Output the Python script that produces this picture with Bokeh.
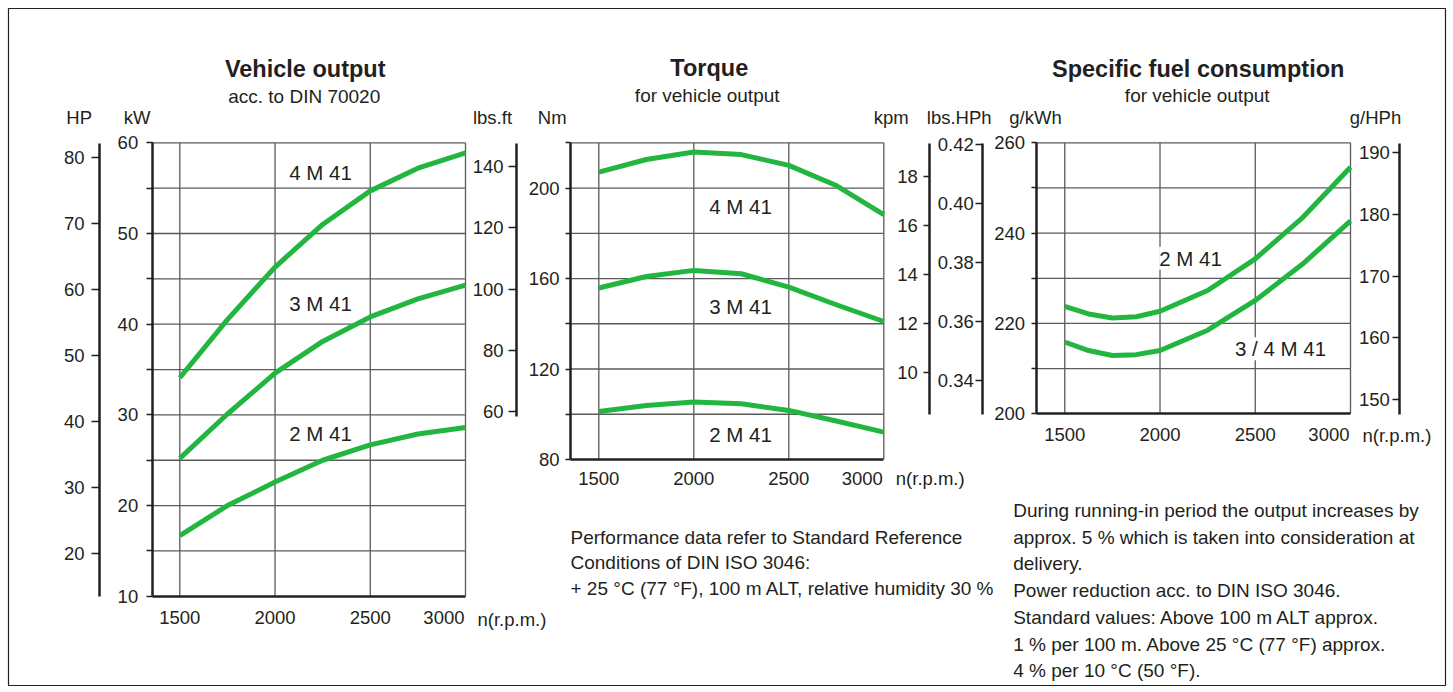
from bokeh.plotting import figure
from bokeh.models import Range1d, LinearAxis, FixedTicker, Label, PrintfTickFormatter, BoxAnnotation
from bokeh.embed import file_html
from bokeh.resources import INLINE

# ---------------- data ----------------
rpm = [1500, 1750, 2000, 2250, 2500, 2750, 3000]
kw_4m41 = [34.1, 40.5, 46.3, 51.0, 54.7, 57.2, 58.9]
kw_3m41 = [25.2, 30.1, 34.6, 38.1, 40.8, 42.8, 44.3]
kw_2m41 = [16.7, 20.0, 22.6, 25.0, 26.7, 27.9, 28.6]

nm_4m41 = [207.0, 212.6, 215.9, 214.8, 210.0, 201.1, 188.3]
nm_3m41 = [155.8, 160.9, 163.6, 162.1, 156.2, 148.4, 141.0]
nm_2m41 = [101.2, 103.9, 105.4, 104.6, 101.7, 97.0, 92.1]

rpm_fuel = [1500, 1625, 1750, 1875, 2000, 2250, 2500, 2750, 3000]
gkwh_2m41 = [223.8, 222.1, 221.2, 221.5, 222.7, 227.3, 234.3, 243.5, 254.6]
gkwh_34m41 = [215.9, 214.0, 212.9, 213.1, 214.0, 218.5, 225.1, 233.2, 242.7]

rpm_ticks = [1500, 2000, 2500]
rpm_grid = [1500, 2000, 2500, 3000]
kw_ticks = [10, 20, 30, 40, 50, 60]
kw_minor = [15, 25, 35, 45, 55]
kw_grid = [15, 20, 25, 30, 35, 40, 45, 50, 55, 60]
hp_ticks = [20, 30, 40, 50, 60, 70, 80]
lbsft_ticks = [60, 80, 100, 120, 140]
nm_ticks = [80, 120, 160, 200]
nm_minor = [100, 140, 180, 220]
nm_grid = [100, 120, 140, 160, 180, 200, 220]
kpm_ticks = [10, 12, 14, 16, 18]
lbshph_ticks = [0.34, 0.36, 0.38, 0.40, 0.42]
gkwh_ticks = [200, 220, 240, 260]
gkwh_minor = [210, 230, 250]
gkwh_grid = [210, 220, 230, 240, 250, 260]
ghph_ticks = [150, 160, 170, 180, 190]

# ---------------- styling / layout ----------------
INK = "#231f20"
GREEN = "#22b53f"
GRIDC = "#5a5a5a"
FONT = "Liberation Sans"
FS = "18.5px"

W, H = 1453, 692
L0, T0 = 0, 0
R0, B0 = L0 + W, T0 + H

p = figure(width=W, height=H, output_backend="svg", toolbar_location=None,
           x_range=Range1d(L0, R0), y_range=Range1d(B0, T0),
           x_axis_type=None, y_axis_type=None)
p.min_border_left = 0
p.min_border_right = 0
p.min_border_top = 0
p.min_border_bottom = 0
p.outline_line_color = None
p.background_fill_color = "white"
p.border_fill_color = "white"

# outer frame of the sheet
p.add_layout(BoxAnnotation(left=8, right=1445, top=8, bottom=685,
                           fill_alpha=0, line_color=INK, line_alpha=1.0, line_width=1.2,
                           level="underlay"))


def lin(pa, va, pb, vb):
    s = (vb - va) / (pb - pa)
    return lambda px: va + (px - pa) * s


# chart frames in page pixels (left, top, right, bottom) with data extents
CHARTS = {
    "c1": dict(box=(151.7, 142.3, 465.0, 595.8), xlim=(1355, 3000), ylim=(10, 60)),
    "c2": dict(box=(570.0, 142.3, 883.3, 459.0), xlim=(1351, 3000), ylim=(80, 220)),
    "c3": dict(box=(1035.5, 142.3, 1350.0, 413.3), xlim=(1349, 3000), ylim=(200, 260)),
}
# auxiliary scales: page y of two tick values
AUX = {
    "hp": dict(loc=99.0, a=(156.7, 80), b=(553.3, 20), span=(142.8, 595.8), ticks=hp_ticks, out=8, so=7),
    "lbsft": dict(loc=516.0, a=(166.0, 140), b=(411.0, 60), span=(142.8, 415.7), ticks=lbsft_ticks, out=8, so=5),
    "kpm": dict(loc=929.3, a=(176.0, 18), b=(371.7, 10), span=(142.8, 414.0), ticks=kpm_ticks, out=6, so=6),
    "lbshph": dict(loc=982.3, a=(144.3, 0.42), b=(380.0, 0.34), span=(142.8, 414.0), ticks=lbshph_ticks, out=7, so=2),
    "ghph": dict(loc=1399.3, a=(151.7, 190), b=(399.3, 150), span=(142.8, 414.0), ticks=ghph_ticks, out=7, so=3),
}

xr, yr, ymaps = {}, {}, {}
for name, c in CHARTS.items():
    l, t, r, b = c["box"]
    fx = lin(l, c["xlim"][0], r, c["xlim"][1])
    fy = lin(b, c["ylim"][0], t, c["ylim"][1])
    xr[name + "x"] = Range1d(fx(L0), fx(R0))
    yr[name + "y"] = Range1d(fy(B0), fy(T0))
for name, a in AUX.items():
    f = lin(a["a"][0], a["a"][1], a["b"][0], a["b"][1])
    ymaps[name] = f
    yr[name] = Range1d(f(B0), f(T0))
p.extra_x_ranges = xr
p.extra_y_ranges = yr


def style_axis(ax, out, so, width=2.5):
    ax.axis_line_color = INK
    ax.axis_line_width = width
    ax.major_tick_line_color = INK
    ax.major_tick_line_width = 1.5
    ax.minor_tick_line_color = INK
    ax.minor_tick_line_width = 1.5
    ax.major_tick_out = int(out)
    ax.major_tick_in = 0
    ax.minor_tick_out = int(out)
    ax.minor_tick_in = 0
    ax.major_label_standoff = int(so)
    ax.major_label_text_font = FONT
    ax.major_label_text_font_size = FS
    ax.major_label_text_color = INK


# grid lines (segments in chart data coordinates)
grids = {"c1": kw_grid, "c2": nm_grid, "c3": gkwh_grid}
for name, c in CHARTS.items():
    x0, x1 = c["xlim"]
    y0, y1 = c["ylim"]
    n = len(rpm_grid)
    p.segment(x0=rpm_grid, y0=[y0] * n, x1=rpm_grid, y1=[y1] * n,
              x_range_name=name + "x", y_range_name=name + "y",
              line_color=GRIDC, line_width=1.3)
    g = grids[name]
    m = len(g)
    p.segment(x0=[x0] * m, y0=g, x1=[x1] * m, y1=g,
              x_range_name=name + "x", y_range_name=name + "y",
              line_color=GRIDC, line_width=1.3)

# curves
for ys in (kw_4m41, kw_3m41, kw_2m41):
    p.line(rpm, ys, x_range_name="c1x", y_range_name="c1y",
           line_color=GREEN, line_width=5, line_join="round")
for ys in (nm_4m41, nm_3m41, nm_2m41):
    p.line(rpm, ys, x_range_name="c2x", y_range_name="c2y",
           line_color=GREEN, line_width=5, line_join="round")
for ys in (gkwh_2m41, gkwh_34m41):
    p.line(rpm_fuel, ys, x_range_name="c3x", y_range_name="c3y",
           line_color=GREEN, line_width=5, line_join="round")

# main axes
main_y = {"c1": (kw_ticks, kw_minor, 6, 8),
          "c2": (nm_ticks, nm_minor, 5, 6),
          "c3": (gkwh_ticks, gkwh_minor, 5, 6)}
x_so = {"c1": 15, "c2": 12, "c3": 14}
unit_y = {"c1": 618.5, "c2": 478.0, "c3": 434.5}
for name, c in CHARTS.items():
    l, t, r, b = c["box"]
    ticks, minor, out, so = main_y[name]
    ay = LinearAxis(y_range_name=name + "y", fixed_location=l, bounds=c["ylim"],
                    ticker=FixedTicker(ticks=ticks, minor_ticks=minor))
    style_axis(ay, out, so)
    p.add_layout(ay, "left")
    axx = LinearAxis(x_range_name=name + "x", fixed_location=b, bounds=c["xlim"],
                     ticker=FixedTicker(ticks=rpm_ticks))
    style_axis(axx, 0, x_so[name])
    p.add_layout(axx, "below")
    # "3000" (right aligned at the frame edge) and the unit
    p.add_layout(Label(x=r - 1, y=b + x_so[name], text="3000", text_font=FONT, text_font_size=FS,
                       text_color=INK, text_align="right", text_baseline="top"))
    p.add_layout(Label(x=r + 12, y=unit_y[name], text="n(r.p.m.)", text_font=FONT, text_font_size=FS,
                       text_color=INK, text_align="left", text_baseline="middle"))

# auxiliary axes
for name, a in AUX.items():
    f = ymaps[name]
    top, bot = a["span"]
    ax = LinearAxis(y_range_name=name, fixed_location=a["loc"], bounds=(f(bot), f(top)),
                    ticker=FixedTicker(ticks=a["ticks"]))
    if name == "lbshph":
        ax.formatter = PrintfTickFormatter(format="%.2f")
    style_axis(ax, a["out"], a["so"])
    p.add_layout(ax, "left")


def txt(s, x, y, size=FS, align="center", baseline="middle", bold=False, bg=None):
    lab = Label(x=x, y=y, text=s, text_font=FONT, text_font_size=size, text_color=INK,
                text_align=align, text_baseline=baseline,
                text_font_style="bold" if bold else "normal")
    if bg is not None:
        lab.background_fill_color = bg
        lab.background_fill_alpha = 1.0
    p.add_layout(lab)


# titles
TS = "23.5px"
SS = "19px"
txt("Vehicle output", 304.7, 68, size=TS, bold=True)
txt("acc. to DIN 70020", 303.7, 95.5, size=SS)
txt("Torque", 708.8, 67, size=TS, bold=True)
txt("for vehicle output", 706.7, 95, size=SS)
txt("Specific fuel consumption", 1197.7, 68, size=TS, bold=True)
txt("for vehicle output", 1196.7, 95, size=SS)

# unit labels
for s, x in [("HP", 78.7), ("kW", 136.7), ("lbs.ft", 492.0), ("Nm", 551.7), ("kpm", 890.8),
             ("lbs.HPh", 958.7), ("g/kWh", 1035.0), ("g/HPh", 1375.0)]:
    txt(s, x, 116.7)

# series labels
LS = "20.5px"
txt("4 M 41", 320, 171.7, size=LS)
txt("3 M 41", 320, 302.7, size=LS)
txt("2 M 41", 320, 432.7, size=LS)
txt("4 M 41", 740, 206, size=LS)
txt("3 M 41", 740, 305.7, size=LS)
txt("2 M 41", 740, 434, size=LS)
txt("2 M 41", 1190, 257.7, size=LS, bg="white")
txt("3 / 4 M 41", 1280, 348.3, size=LS, bg="white")

# notes
NS = "19px"
notes_mid = ["Performance data refer to Standard Reference",
             "Conditions of DIN ISO 3046:",
             "+ 25 \u00b0C (77 \u00b0F), 100 m ALT, relative humidity 30 %"]
for i, s in enumerate(notes_mid):
    txt(s, 570, 537 + i * 25.3, size=NS, align="left")
notes_right = ["During running-in period the output increases by",
               "approx. 5 % which is taken into consideration at",
               "delivery.",
               "Power reduction acc. to DIN ISO 3046.",
               "Standard values: Above 100 m ALT approx.",
               "1 % per 100 m. Above 25 \u00b0C (77 \u00b0F) approx.",
               "4 % per 10 \u00b0C (50 \u00b0F)."]
for i, s in enumerate(notes_right):
    txt(s, 1012.7, 510 + i * 26.7, size=NS, align="left")

open("out.html", "w").write(file_html(p, INLINE))
